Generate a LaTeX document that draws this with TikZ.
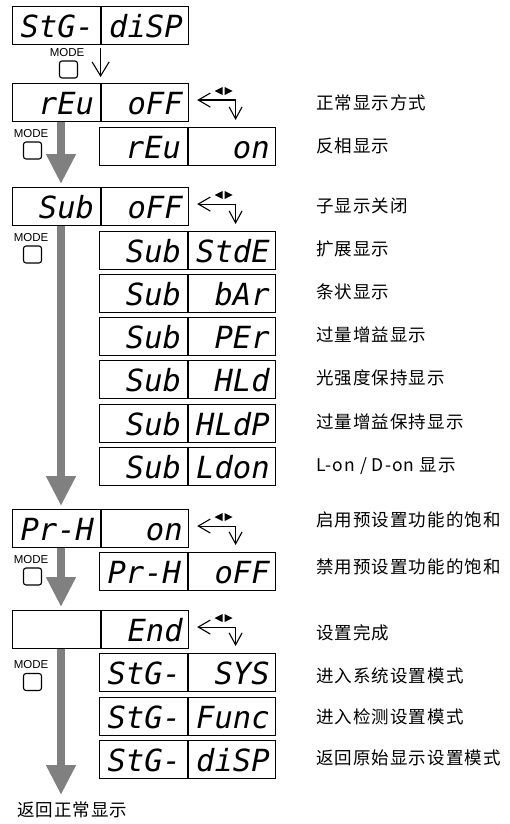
\documentclass[tikz,border=0pt]{standalone}
\usepackage{fontspec}
\setmainfont{Liberation Sans}
\newfontfamily\cjk[LetterSpace=6]{Noto Sans CJK SC}
\newfontfamily\seg{DejaVu Sans Mono}
\usetikzlibrary{arrows.meta}
\definecolor{arrowgray}{RGB}{128,128,128}
\tikzset{
  half/.style={draw, line width=1.1pt, rectangle, anchor=north west,
    text width=75.5pt, inner xsep=6pt, inner ysep=7pt,
    text height=24pt, text depth=0pt, align=right,
    font=\seg\itshape\fontsize{30.5}{30.5}\selectfont},
  bigarrow/.style={draw=arrowgray, line width=8pt,
    -{Triangle[width=28pt,length=30pt,fill=arrowgray]}, shorten >=3pt},
  thinarrow/.style={line width=1.1pt, -{Straight Barb[length=14pt,width=17pt]}},
  sidearr/.style={line width=1.1pt,
    {Straight Barb[length=12pt,width=14pt]}-{Straight Barb[length=12pt,width=13pt]}},
  modetext/.style={inner sep=0pt, font=\fontsize{11.5}{11.5}\selectfont},
  btn/.style={draw, line width=1.1pt, rounded corners=2.5pt, minimum width=18pt,
    minimum height=17pt, inner sep=0pt},
  lab/.style={anchor=west, inner sep=0pt, font=\cjk\fontsize{17.5}{17.5}\selectfont}
}
\newcommand\dispbox[5]{%
  \node[half] (#1-l) at (#2,#3) {#4};
  \node[half] (#1-r) at (#1-l.north east) {#5};}
\newcommand\sidearrow[2]{%
  \draw[sidearr] ([xshift=8pt,yshift=2.5pt]#1-r.east) -| coordinate[pos=0.5] (#1-c) ([xshift=48pt,yshift=7pt]#2-r.north west);
  \fill (#1-c) ++(-21,-9) -- ++(8,-4) -- ++(0,8) -- cycle;
  \fill (#1-c) ++(-11,-13) -- ++(0,8) -- ++(8,-4) -- cycle;}
\begin{document}
\begin{tikzpicture}[x=1pt,y=-1pt]
\useasboundingbox (0,0) rectangle (509,824);
% displays
\dispbox{d1}{12}{6}{StG-}{diSP}
\dispbox{rev}{12}{83}{rEu}{oFF}
\dispbox{revon}{99}{127}{rEu}{on}
\dispbox{sub}{12}{187}{Sub}{oFF}
\dispbox{std}{99}{231}{Sub}{StdE}
\dispbox{bar}{99}{274}{Sub}{bAr}
\dispbox{per}{99}{317}{Sub}{PEr}
\dispbox{hld}{99}{360}{Sub}{HLd}
\dispbox{hldp}{99}{404}{Sub}{HLdP}
\dispbox{ldon}{99}{447}{Sub}{Ldon}
\dispbox{prh}{12}{509}{Pr-H}{on}
\dispbox{prhoff}{99}{552}{Pr-H}{oFF}
\dispbox{end}{12}{610}{}{End}
\dispbox{sys}{99}{653}{StG-}{SYS}
\dispbox{func}{99}{697}{StG-}{Func}
\dispbox{disp}{99}{740}{StG-}{diSP}
% arrows
\draw[thinarrow, shorten <=3pt, shorten >=6pt] (d1-l.south east) -- (rev-l.north east);
\coordinate (gx) at (61,0);
\coordinate (gend) at (61,795);
\draw[bigarrow] (gx |- rev-l.south) -- (gx |- sub-l.north);
\draw[bigarrow] (gx |- sub-l.south) -- (gx |- prh-l.north);
\draw[bigarrow] (gx |- prh-l.south) -- (gx |- end-l.north);
\draw[bigarrow, shorten >=0pt] (gx |- end-l.south) -- (gend);
\sidearrow{rev}{revon}
\sidearrow{sub}{std}
\sidearrow{prh}{prhoff}
\sidearrow{end}{sys}
% MODE buttons
\node[modetext] (m1) at (67,53) {MODE};
\node[btn] (b1) at (68.5,69.5) {};
\node[modetext] (m2) at (31,134) {MODE};
\node[btn] (b2) at (32.5,150.5) {};
\node[modetext] (m3) at (31,238) {MODE};
\node[btn] (b3) at (32.5,254.5) {};
\node[modetext] (m4) at (31,560) {MODE};
\node[btn] (b4) at (32.5,576.5) {};
\node[modetext] (m5) at (31,665) {MODE};
\node[btn] (b5) at (32.5,682) {};
% labels
\node[lab] (t1) at (316,103) {正常显示方式};
\node[lab] (t2) at (316,146) {反相显示};
\node[lab] (t3) at (316,206) {子显示关闭};
\node[lab] (t4) at (316,249) {扩展显示};
\node[lab] (t5) at (316,292) {条状显示};
\node[lab] (t6) at (316,335) {过量增益显示};
\node[lab] (t7) at (316,378) {光强度保持显示};
\node[lab] (t8) at (316,422) {过量增益保持显示};
\node[lab] (t9) at (316,466) {L-on / D-on 显示};
\node[lab] (t10) at (316,520) {启用预设置功能的饱和};
\node[lab] (t11) at (316,567) {禁用预设置功能的饱和};
\node[lab] (t12) at (316,633) {设置完成};
\node[lab] (t13) at (316,676) {进入系统设置模式};
\node[lab] (t14) at (316,717) {进入检测设置模式};
\node[lab] (t15) at (316,758) {返回原始显示设置模式};
\node[lab] (t16) at (17,810) {返回正常显示};
\end{tikzpicture}
\end{document}
